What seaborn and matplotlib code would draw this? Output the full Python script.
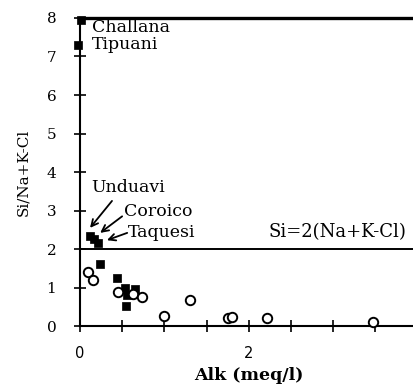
import matplotlib
matplotlib.use("Agg")
import matplotlib.pyplot as plt
import seaborn as sns
import pandas as pd

# Filled squares (named rivers + others)
sq_x = [0.01, -0.02, 0.12, 0.17, 0.21, 0.24, 0.44, 0.53, 0.65, 0.56, 0.54]
sq_y = [7.95, 7.3, 2.35, 2.25, 2.15, 1.6, 1.25, 0.98, 0.96, 0.8, 0.52]
# Open circles
ci_x = [0.09, 0.16, 0.45, 0.63, 0.73, 1.3, 1.0, 1.75, 1.8, 2.22, 3.47]
ci_y = [1.4, 1.2, 0.88, 0.83, 0.75, 0.68, 0.26, 0.2, 0.23, 0.2, 0.1]

labels = ["Challana", "Tipuani", "Unduavi", "Coroico", "Taquesi"]
xtick_vals = [0, 0.5, 1, 1.5, 2, 2.5, 3, 3.5]
xtick_labels = ["0", "", "", "", "2", "", "", ""]
ytick_vals = [0, 1, 2, 3, 4, 5, 6, 7, 8]
line_y = 2
line_label = "Si=2(Na+K-Cl)"

df = pd.DataFrame({
    "Alk": sq_x + ci_x,
    "ratio": sq_y + ci_y,
    "group": ["sq"] * len(sq_x) + ["ci"] * len(ci_x),
})

sns.set_theme(style="ticks")
plt.rcParams["font.family"] = ["DejaVu Serif"]
for k in ["text.color", "axes.labelcolor", "xtick.color", "ytick.color", "axes.edgecolor"]:
    plt.rcParams[k] = "black"

fig = plt.figure(figsize=(4.14, 3.91), dpi=100)
ax = fig.add_axes([0.193, 0.166, 0.816, 0.788])

sns.scatterplot(data=df[df.group == "sq"], x="Alk", y="ratio", marker="s",
                color="black", edgecolor="black", s=40, ax=ax, legend=False,
                zorder=3, clip_on=False)
sns.scatterplot(data=df[df.group == "ci"], x="Alk", y="ratio", marker="o",
                facecolor="white", edgecolor="black", linewidth=1.4, s=46, ax=ax,
                legend=False, zorder=3, clip_on=False)

ax.axhline(line_y, color="black", lw=1.4, zorder=2)
ax.text(3.87, 2.2, line_label, ha="right", va="bottom", fontsize=13)

ax.set_xlim(0, 4)
ax.set_ylim(0, 8)
ax.set_xticks(xtick_vals)
ax.set_xticklabels(xtick_labels, fontfamily="DejaVu Sans", fontsize=10.5)
ax.set_yticks(ytick_vals)
ax.set_yticklabels([str(v) for v in ytick_vals], fontsize=11)
ax.tick_params(axis="both", direction="inout", length=8, width=1.2, color="black",
               bottom=True, left=True)
ax.tick_params(axis="x", pad=10)
ax.tick_params(axis="y", pad=13)

ax.spines["right"].set_visible(False)
ax.spines["top"].set_visible(True)
ax.spines["left"].set_linewidth(1.5)
ax.spines["bottom"].set_linewidth(1.5)
ax.spines["top"].set_linewidth(2.4)

ax.set_xlabel("Alk (meq/l)", fontweight="bold", fontsize=12.5, labelpad=5)
ax.set_ylabel("Si/Na+K-Cl", fontsize=11, labelpad=12)

# Labels for named points
ax.text(0.14, 7.76, labels[0], fontsize=12.5, va="center")
ax.text(0.14, 7.3, labels[1], fontsize=12.5, va="center")
ax.text(0.14, 3.6, labels[2], fontsize=12.5, va="center")
ax.text(0.52, 2.98, labels[3], fontsize=12.5, va="center")
ax.text(0.57, 2.44, labels[4], fontsize=12.5, va="center")
arrow = dict(arrowstyle="->", color="black", lw=1.3, shrinkA=0, shrinkB=0)
ax.annotate("", xy=(0.12, 2.55), xytext=(0.38, 3.25), arrowprops=arrow)
ax.annotate("", xy=(0.24, 2.42), xytext=(0.5, 2.85), arrowprops=arrow)
ax.annotate("", xy=(0.32, 2.23), xytext=(0.56, 2.42), arrowprops=arrow)

fig.savefig("out.png", dpi=100)
